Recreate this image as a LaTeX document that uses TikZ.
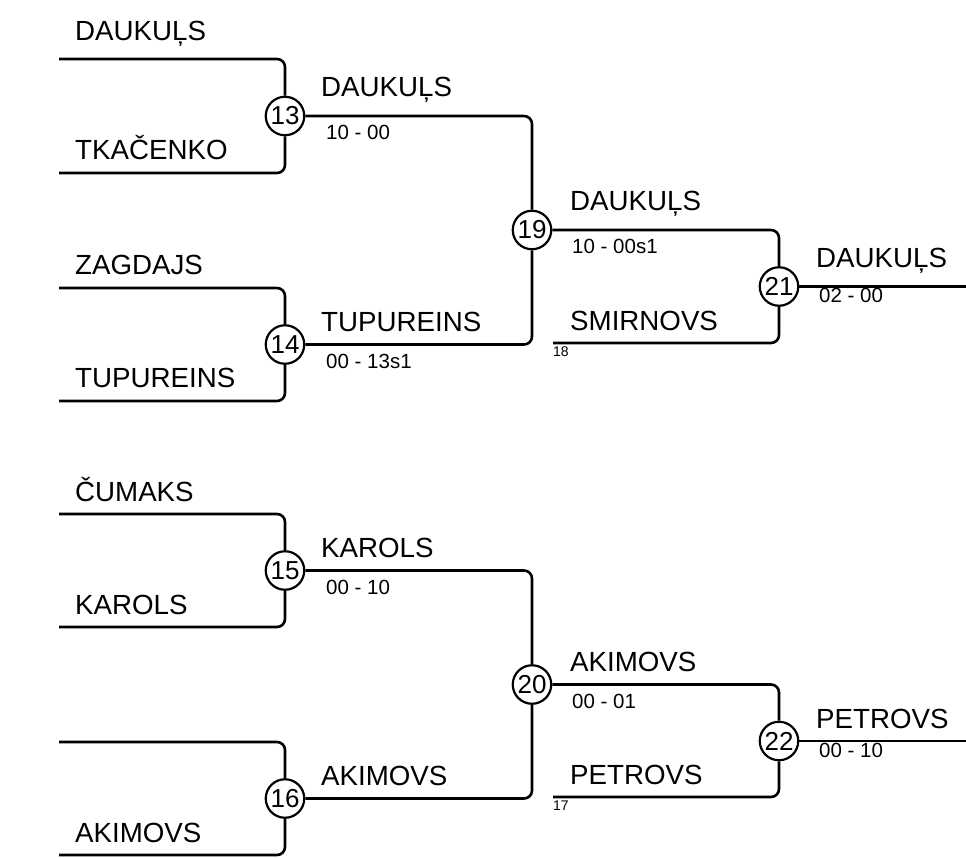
\documentclass[tikz,border=0pt]{standalone}
\usepackage{fontspec}
\setmainfont{Liberation Sans}
\begin{document}
\begin{tikzpicture}[x=1pt,y=-1pt,
  bline/.style={line width=2.6pt, rounded corners=8pt},
  bmatch/.style={circle, draw, line width=2.2pt, minimum size=38.5pt, inner sep=0pt, font=\fontsize{26}{26}\selectfont},
  pname/.style={anchor=south west, inner sep=0pt, font=\fontsize{27.7}{30}\selectfont},
  pscore/.style={anchor=north west, inner sep=0pt, font=\fontsize{20.5}{22}\selectfont},
  pseed/.style={anchor=north west, inner sep=0pt, font=\fontsize{14}{15}\selectfont}]
\useasboundingbox (0,0) rectangle (966,857);

% ---------- top half ----------
\coordinate (a1) at (59,59);
\coordinate (a2) at (59,173);
\coordinate (b1) at (59,288);
\coordinate (b2) at (59,401);
\node[bmatch] (m13) at (285,116) {13};
\node[bmatch] (m14) at (285,344.5) {14};
\node[bmatch] (m19) at (532,230) {19};
\coordinate (s18) at (553,343);
\node[bmatch] (m21) at (779,286.5) {21};
\coordinate (e21) at (966,286.5);

\draw[bline] (a1) -| (m13);
\draw[bline] (a2) -| (m13);
\draw[bline] (b1) -| (m14);
\draw[bline] (b2) -| (m14);
\draw[bline] (m13) -| (m19);
\draw[bline] (m14) -| (m19);
\draw[bline] (m19) -| (m21);
\draw[bline] (s18) -| (m21);
\draw[bline] (m21) -- (e21);

\node[pname] (t1) at (75,47) {DAUKUĻS};
\node[pname] (t2) at (75,160) {TKAČENKO};
\node[pname] (t3) at (75,275) {ZAGDAJS};
\node[pname] (t4) at (75,388) {TUPUREINS};
\node[pname] (t5) at (321,103) {DAUKUĻS};
\node[pscore] (sc13) at (326,125) {10 - 00};
\node[pname] (t6) at (321,331.5) {TUPUREINS};
\node[pscore] (sc14) at (326,353.5) {00 - 13s1};
\node[pname] (t7) at (570,217) {DAUKUĻS};
\node[pscore] (sc19) at (572,239) {10 - 00s1};
\node[pname] (t8) at (570,330.5) {SMIRNOVS};
\node[pseed] (sd18) at (553,347) {18};
\node[pname] (t9) at (816,274) {DAUKUĻS};
\node[pscore] (sc21) at (819,288) {02 - 00};

% ---------- bottom half ----------
\coordinate (c1) at (59,514);
\coordinate (c2) at (59,627);
\coordinate (d1) at (59,742);
\coordinate (d2) at (59,855);
\node[bmatch] (m15) at (285,570.5) {15};
\node[bmatch] (m16) at (285,798.5) {16};
\node[bmatch] (m20) at (532,684.5) {20};
\coordinate (s17) at (553,797);
\node[bmatch] (m22) at (779,741) {22};
\coordinate (e22) at (966,741);

\draw[bline] (c1) -| (m15);
\draw[bline] (c2) -| (m15);
\draw[bline] (d1) -| (m16);
\draw[bline] (d2) -| (m16);
\draw[bline] (m15) -| (m20);
\draw[bline] (m16) -| (m20);
\draw[bline] (m20) -| (m22);
\draw[bline] (s17) -| (m22);
\draw[bline] (m22) -- (e22);

\node[pname] (u1) at (75,501.5) {ČUMAKS};
\node[pname] (u2) at (75,614.5) {KAROLS};
\node[pname] (u4) at (75,842.5) {AKIMOVS};
\node[pname] (u5) at (321,558) {KAROLS};
\node[pscore] (sc15) at (326,579.5) {00 - 10};
\node[pname] (u6) at (321,786) {AKIMOVS};
\node[pname] (u7) at (570,672) {AKIMOVS};
\node[pscore] (sc20) at (572,693.5) {00 - 01};
\node[pname] (u8) at (570,784.5) {PETROVS};
\node[pseed] (sd17) at (553,801) {17};
\node[pname] (u9) at (816,728.5) {PETROVS};
\node[pscore] (sc22) at (819,743) {00 - 10};
\end{tikzpicture}
\end{document}
